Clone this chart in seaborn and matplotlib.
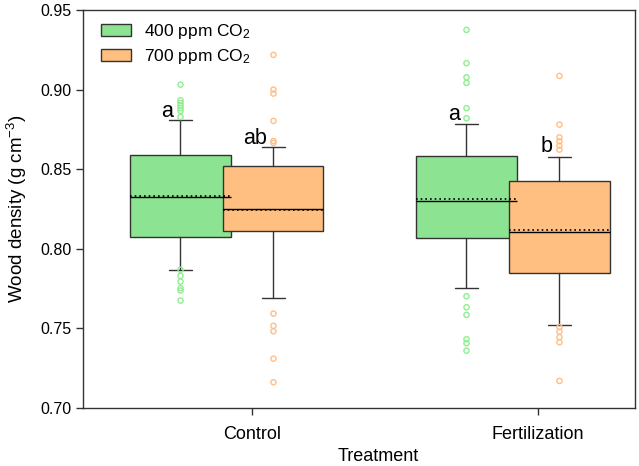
import numpy as np
import pandas as pd
import seaborn as sns
import matplotlib.pyplot as plt
from matplotlib.patches import Patch

# === data ===
groups = ["Control", "Fertilization"]
co2_labels = ["400 ppm CO$_2$", "700 ppm CO$_2$"]

# 400 ppm boxes (Control, Fertilization)
q1_400 = [0.8071, 0.8065]
med_400 = [0.8327, 0.8300]
q3_400 = [0.8588, 0.8585]
mean_400 = [0.8332, 0.8312]
wlo_400 = [0.7866, 0.7751]
whi_400 = [0.8807, 0.8786]

# 700 ppm boxes
q1_700 = [0.8113, 0.7851]
med_700 = [0.8253, 0.8105]
q3_700 = [0.8518, 0.8426]
mean_700 = [0.8241, 0.8120]
wlo_700 = [0.7694, 0.7524]
whi_700 = [0.8637, 0.8574]

# outliers
out_400_control = [0.9031, 0.8933, 0.8916, 0.8899, 0.8883, 0.8866, 0.8828,
                   0.7868, 0.7830, 0.7794, 0.7753, 0.7738, 0.7675]
out_700_control = [0.9218, 0.9000, 0.8975, 0.8803, 0.8677, 0.8665,
                   0.7593, 0.7516, 0.7482, 0.7310, 0.7162]
out_400_fert = [0.9375, 0.9166, 0.9077, 0.9042, 0.8883, 0.8820,
                0.7702, 0.7633, 0.7585, 0.7432, 0.7407, 0.7360]
out_700_fert = [0.9086, 0.8780, 0.8700, 0.8675, 0.8648, 0.8623,
                0.7508, 0.7480, 0.7445, 0.7413, 0.7170]

# significance letters (Control 400, Control 700, Fert 400, Fert 700)
letters = ["a", "ab", "a", "b"]
letter_y = [0.8830, 0.8658, 0.8807, 0.8606]

# === style ===
sns.set_style("ticks")
plt.rcParams['font.family'] = ['Liberation Sans', 'DejaVu Sans']
plt.rcParams['mathtext.fontset'] = 'custom'
plt.rcParams['mathtext.rm'] = 'Liberation Sans'
plt.rcParams['mathtext.it'] = 'Liberation Sans:italic'
plt.rcParams['mathtext.default'] = 'regular'
plt.rcParams['text.color'] = 'black'
plt.rcParams['axes.labelcolor'] = 'black'
plt.rcParams['xtick.color'] = 'black'
plt.rcParams['ytick.color'] = 'black'

fills = ["#8ce391", "#ffbf80"]
dots = ["#90ee90", "#ffbf86"]
edge = "#333333"
offsets = [-0.25, 0.075]
letter_dx = [-0.297, 0.01, -0.295, 0.030]

fig = plt.figure(figsize=(6.39, 4.66), dpi=100)
ax = fig.add_axes([83 / 639, 1 - 408 / 466, 552 / 639, 398 / 466])

levels = [
    (q1_400, med_400, q3_400, mean_400, wlo_400, whi_400),
    (q1_700, med_700, q3_700, mean_700, wlo_700, whi_700),
]
for k, (q1, med, q3, mn, wlo, whi) in enumerate(levels):
    stats = []
    for i in range(len(groups)):
        stats.append(dict(q1=q1[i], med=med[i], q3=q3[i], mean=mn[i],
                          whislo=wlo[i], whishi=whi[i], fliers=[]))
    pos = [i + offsets[k] for i in range(len(groups))]
    ax.bxp(stats, positions=pos, widths=0.35, capwidths=0.08,
           showmeans=True, meanline=True, showfliers=False,
           patch_artist=True, manage_ticks=False,
           boxprops=dict(facecolor=fills[k], edgecolor=edge, linewidth=1.0),
           medianprops=dict(color="black", linewidth=1.0),
           meanprops=dict(color="black", linestyle=(0, (1, 1.8)), linewidth=1.2),
           whiskerprops=dict(color=edge, linewidth=1.0),
           capprops=dict(color=edge, linewidth=1.0))

# outlier points via seaborn
rows = []
for vals, g, k in [(out_400_control, 0, 0), (out_700_control, 0, 1),
                   (out_400_fert, 1, 0), (out_700_fert, 1, 1)]:
    for v in vals:
        rows.append({"x": g + offsets[k], "y": v, "co2": co2_labels[k]})
df_out = pd.DataFrame(rows)
for k, lab in enumerate(co2_labels):
    sub = df_out[df_out["co2"] == lab]
    sns.scatterplot(data=sub, x="x", y="y", ax=ax, marker="o", s=14,
                    facecolor="none", edgecolor=dots[k], linewidth=1.0,
                    legend=False, zorder=3)

# letters
for j, (txt, yv) in enumerate(zip(letters, letter_y)):
    g = j // 2
    ax.text(g + letter_dx[j], yv, txt, ha="center", va="baseline", fontsize=15.5)

ax.set_xlim((83 - 252) / 286, (635 - 252) / 286)
ax.set_ylim(0.70, 0.95)
ax.set_yticks([0.70, 0.75, 0.80, 0.85, 0.90, 0.95])
ax.set_yticklabels(["0.70", "0.75", "0.80", "0.85", "0.90", "0.95"], fontsize=11.5)
ax.set_xticks(range(len(groups)))
ax.set_xticklabels(groups, fontsize=13)
ax.tick_params(axis="both", direction="out", length=5, width=1, color=edge)
ax.tick_params(axis="x", pad=8)
ax.tick_params(axis="y", pad=3)
ax.set_xlabel("Treatment", fontsize=13)
ax.set_ylabel("Wood density (g cm$^{-3}$)", fontsize=13.5)
ax.xaxis.set_label_coords((378 - 83) / 552, -0.1)
ax.yaxis.set_label_coords(-0.097, 0.5)
for side in ["top", "right", "left", "bottom"]:
    ax.spines[side].set_visible(True)
    ax.spines[side].set_color(edge)
    ax.spines[side].set_linewidth(1.0)

handles = [Patch(facecolor=fills[k], edgecolor=edge, linewidth=1.0, label=co2_labels[k])
           for k in range(2)]
ax.legend(handles=handles, loc="upper left", bbox_to_anchor=(0.01, 1.0),
          frameon=False, fontsize=12.5, handlelength=1.75, handleheight=0.7,
          handletextpad=0.75, labelspacing=0.32, borderpad=0.2)

fig.savefig("out.png", dpi=100)
